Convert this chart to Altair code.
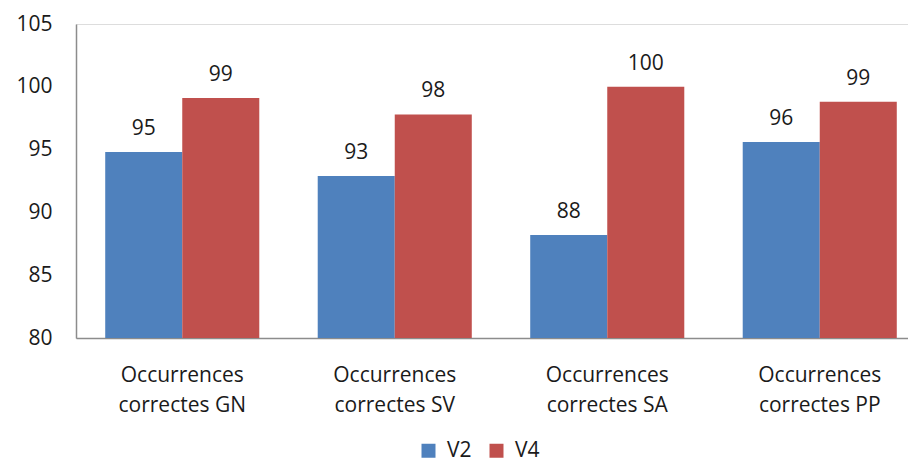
import altair as alt
import pandas as pd

categories = ["Occurrences correctes GN", "Occurrences correctes SV",
              "Occurrences correctes SA", "Occurrences correctes PP"]
series = ["V2", "V4"]
v2_values = [94.8, 92.9, 88.2, 95.6]
v4_values = [99.1, 97.8, 100.0, 98.8]
y_ticks = [80, 85, 90, 95, 100, 105]
colors = ["#4F81BD", "#C0504D"]

rows = []
for c, a, b in zip(categories, v2_values, v4_values):
    rows.append({"cat": c, "serie": "V2", "val": a})
    rows.append({"cat": c, "serie": "V4", "val": b})
df = pd.DataFrame(rows)

FONT = "Open Sans"
FS = 21

x_enc = alt.X("cat:N", sort=categories, title=None,
              scale=alt.Scale(range=[0, 850], paddingInner=0.275, paddingOuter=0.1375),
              axis=alt.Axis(labelAngle=0, ticks=False, labelPadding=26,
                            labelExpr="['Occurrences', slice(datum.label, 12)]",
                            labelLineHeight=30, labelFontSize=FS, labelFont=FONT,
                            labelColor="#1a1a1a", domainColor="#8c8c8c", domainWidth=1.5))
y_enc = alt.Y("val:Q", title=None,
              scale=alt.Scale(domain=[80, 105], zero=False, nice=False),
              axis=alt.Axis(values=y_ticks, ticks=False, grid=False, labelPadding=24,
                            labelFontSize=FS, labelFont=FONT, labelColor="#1a1a1a",
                            domainColor="#8c8c8c", domainWidth=1.5))
xo = alt.XOffset("serie:N", sort=series)

base = alt.Chart(df)
bars = base.mark_bar().encode(
    x=x_enc, xOffset=xo, y=y_enc, y2=alt.datum(80),
    color=alt.Color("serie:N", sort=series,
                    scale=alt.Scale(domain=series, range=colors),
                    legend=alt.Legend(title=None, orient="none", direction="horizontal",
                                      legendX=342, legendY=416, symbolType="square",
                                      symbolSize=196, symbolStrokeWidth=0,
                                      labelFontSize=FS, labelFont=FONT, labelColor="#1a1a1a",
                                      labelOffset=8, columnPadding=14)),
)
texts = base.mark_text(baseline="alphabetic", dy=-17, font=FONT, fontSize=FS,
                       color="#1a1a1a").encode(
    x=x_enc, xOffset=xo, y=y_enc, text=alt.Text("val:Q", format=".0f"))

chart = alt.layer(bars, texts).properties(
    width=832, height=314,
    autosize=alt.AutoSizeParams(type="none"),
    padding={"left": 68, "top": 16, "right": 0, "bottom": 124},
).configure_view(stroke=None).configure(background="white")

chart.save("out.html", embed_options={"renderer": "svg", "actions": False})
